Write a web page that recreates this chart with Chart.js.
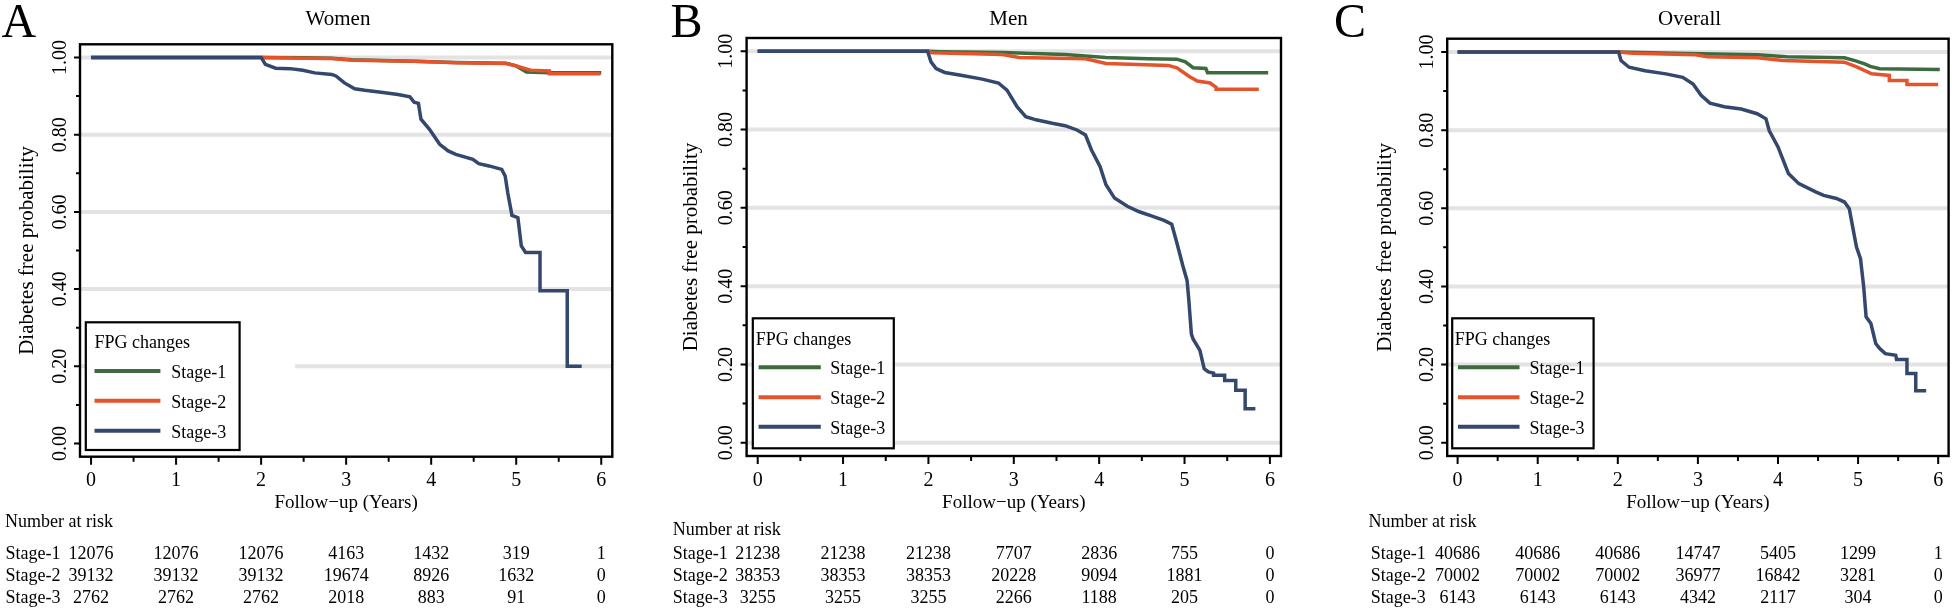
<!DOCTYPE html>
<html>
<head>
<meta charset="utf-8">
<script src="https://cdn.jsdelivr.net/npm/chart.js@4.4.1/dist/chart.umd.min.js"></script>
<style>
  html, body { margin: 0; padding: 0; background: #fff; }
  #wrap { position: relative; width: 1952px; height: 612px; overflow: hidden; }
  canvas { position: absolute; top: 0; }
</style>
</head>
<body>
<div id="wrap">
  <canvas id="women" width="650" height="612" style="left:0px"></canvas>
  <canvas id="men" width="650" height="612" style="left:650px"></canvas>
  <canvas id="overall" width="652" height="612" style="left:1300px"></canvas>
</div>
<script>
// ---- data ----
const stages = ['Stage-1', 'Stage-2', 'Stage-3'];
const stageColors = ['#3b6b3e', '#e5532a', '#34476c'];
const xTicks = [0, 1, 2, 3, 4, 5, 6];
const yTicks = [0, 0.2, 0.4, 0.6, 0.8, 1.0];

// survival curves, [years, probability]
const womenStage1 = [[0,1],[2,1],[2.5,0.999],[2.83,0.998],[3.07,0.994],[3.8,0.99],[4.29,0.987],[4.88,0.985],[5.0,0.978],[5.12,0.962],[5.39,0.96],[6.0,0.96]];
const womenStage2 = [[0,1],[2,1],[2.5,0.998],[2.83,0.997],[3.07,0.993],[3.8,0.99],[4.29,0.986],[4.88,0.984],[4.98,0.979],[5.17,0.967],[5.39,0.965],[5.39,0.958],[5.99,0.958]];
const womenStage3 = [[0,1],[2.0,1],[2.05,0.982],[2.17,0.972],[2.34,0.971],[2.49,0.967],[2.63,0.96],[2.83,0.956],[2.88,0.952],[2.98,0.934],[3.1,0.919],[3.22,0.915],[3.41,0.91],[3.61,0.904],[3.75,0.898],[3.8,0.884],[3.85,0.881],[3.88,0.84],[3.98,0.814],[4.1,0.775],[4.2,0.758],[4.29,0.749],[4.49,0.736],[4.56,0.725],[4.68,0.719],[4.83,0.71],[4.87,0.693],[4.9,0.65],[4.95,0.591],[5.02,0.585],[5.06,0.512],[5.11,0.495],[5.28,0.495],[5.28,0.396],[5.6,0.396],[5.6,0.2],[5.77,0.2]];

const menStage1 = [[0,1],[2,1],[2.14,0.999],[2.87,0.997],[3.6,0.992],[4.08,0.984],[4.57,0.981],[4.91,0.98],[5.01,0.973],[5.1,0.958],[5.25,0.956],[5.27,0.945],[5.98,0.945]];
const menStage2 = [[0,1],[2,1],[2.04,0.996],[2.87,0.992],[3.06,0.984],[3.84,0.981],[4.08,0.969],[4.81,0.964],[4.91,0.958],[5.06,0.935],[5.15,0.924],[5.3,0.919],[5.37,0.908],[5.37,0.903],[5.87,0.903]];
const menStage3 = [[0,1],[1.99,1],[2.03,0.973],[2.09,0.956],[2.19,0.946],[2.38,0.939],[2.63,0.929],[2.82,0.919],[2.92,0.901],[3.04,0.858],[3.14,0.833],[3.26,0.825],[3.45,0.816],[3.6,0.81],[3.74,0.799],[3.84,0.786],[3.91,0.748],[4.01,0.706],[4.08,0.659],[4.18,0.625],[4.33,0.604],[4.47,0.59],[4.62,0.579],[4.76,0.568],[4.85,0.558],[4.91,0.511],[4.98,0.452],[5.03,0.414],[5.05,0.365],[5.08,0.278],[5.1,0.265],[5.18,0.236],[5.23,0.189],[5.28,0.181],[5.34,0.178],[5.34,0.172],[5.47,0.172],[5.47,0.159],[5.6,0.159],[5.6,0.134],[5.71,0.134],[5.71,0.087],[5.83,0.087]];

const allStage1 = [[0,1],[2,1],[2.71,0.997],[3.23,0.995],[3.74,0.993],[4.11,0.988],[4.83,0.985],[4.96,0.978],[5.09,0.969],[5.15,0.963],[5.27,0.957],[6.02,0.955]];
const allStage2 = [[0,1],[2,1],[2.19,0.997],[2.97,0.993],[3.12,0.988],[3.74,0.985],[4.06,0.978],[4.83,0.974],[4.99,0.961],[5.17,0.944],[5.3,0.942],[5.39,0.94],[5.39,0.927],[5.61,0.927],[5.61,0.917],[6.0,0.917]];
const allStage3 = [[0,1],[2.01,1],[2.04,0.978],[2.14,0.961],[2.34,0.952],[2.6,0.944],[2.81,0.935],[2.94,0.918],[3.04,0.889],[3.15,0.869],[3.33,0.86],[3.54,0.854],[3.74,0.842],[3.85,0.829],[3.89,0.799],[4.0,0.757],[4.13,0.689],[4.26,0.663],[4.47,0.642],[4.57,0.633],[4.73,0.625],[4.83,0.616],[4.89,0.599],[4.94,0.544],[4.98,0.501],[5.03,0.471],[5.07,0.399],[5.1,0.322],[5.16,0.305],[5.22,0.254],[5.27,0.241],[5.34,0.228],[5.47,0.224],[5.48,0.213],[5.61,0.213],[5.61,0.177],[5.72,0.177],[5.72,0.133],[5.85,0.133]];

// number at risk at years 0..6
const womenRisk1 = [12076, 12076, 12076, 4163, 1432, 319, 1];
const womenRisk2 = [39132, 39132, 39132, 19674, 8926, 1632, 0];
const womenRisk3 = [2762, 2762, 2762, 2018, 883, 91, 0];
const menRisk1 = [21238, 21238, 21238, 7707, 2836, 755, 0];
const menRisk2 = [38353, 38353, 38353, 20228, 9094, 1881, 0];
const menRisk3 = [3255, 3255, 3255, 2266, 1188, 205, 0];
const allRisk1 = [40686, 40686, 40686, 14747, 5405, 1299, 1];
const allRisk2 = [70002, 70002, 70002, 36977, 16842, 3281, 0];
const allRisk3 = [6143, 6143, 6143, 4342, 2117, 304, 0];

const FONT = '"Liberation Serif", "Times New Roman", serif';

function txt(ctx, s, x, y, size, align, rot) {
  ctx.save();
  ctx.translate(x, y);
  if (rot) ctx.rotate(rot);
  ctx.font = size + 'px ' + FONT;
  ctx.textAlign = align || 'left';
  ctx.textBaseline = 'alphabetic';
  ctx.fillStyle = '#000';
  ctx.fillText(s, 0, 0);
  ctx.restore();
}

// draws grid, frame, axes, legend, titles and the risk table
const kmDecor = {
  id: 'kmDecor',
  beforeDatasetsDraw(chart, args, o) {
    const { ctx, chartArea: a, scales: { x, y } } = chart;
    ctx.save();
    ctx.strokeStyle = '#e3e3e3';
    ctx.lineWidth = 4;
    o.grid.forEach(v => {
      const py = y.getPixelForValue(v);
      ctx.beginPath();
      ctx.moveTo(a.left, py);
      ctx.lineTo(a.right, py);
      ctx.stroke();
    });
    ctx.restore();
  },
  afterDatasetsDraw(chart, args, o) {
    const { ctx, chartArea: a, scales: { x, y } } = chart;
    ctx.save();

    // legend
    const L = o.legend;
    if (L.bg) {
      const bgR = L.bgTo != null ? x.getPixelForValue(L.bgTo) : L.r;
      ctx.fillStyle = '#fff';
      ctx.fillRect(L.l, L.t, bgR - L.l, L.b - L.t);
    }
    ctx.strokeStyle = '#000';
    ctx.lineWidth = 2.2;
    ctx.strokeRect(L.l, L.t, L.r - L.l, L.b - L.t);
    txt(ctx, 'FPG changes', L.titleX, L.titleY, 18);
    chart.data.datasets.forEach((ds, i) => {
      ctx.strokeStyle = ds.borderColor;
      ctx.lineWidth = 4;
      ctx.beginPath();
      ctx.moveTo(L.lineX0, L.rows[i]);
      ctx.lineTo(L.lineX1, L.rows[i]);
      ctx.stroke();
      txt(ctx, ds.label, L.textX, L.rows[i] + 7, 18);
    });

    // frame
    ctx.strokeStyle = '#000';
    ctx.lineWidth = 2.4;
    ctx.strokeRect(a.left, a.top, a.right - a.left, a.bottom - a.top);

    // ticks
    ctx.lineWidth = 2;
    ctx.beginPath();
    for (let v = 0; v <= 6.001; v += 0.5) {
      const px = x.getPixelForValue(v);
      const len = Math.abs(v - Math.round(v)) < 1e-6 ? 8 : 5;
      ctx.moveTo(px, a.bottom);
      ctx.lineTo(px, a.bottom + len);
    }
    for (let k = 0; k <= 10; k++) {
      const py = y.getPixelForValue(k / 10);
      const len = k % 2 === 0 ? 6 : 4;
      ctx.moveTo(a.left, py);
      ctx.lineTo(a.left - len, py);
    }
    ctx.stroke();

    // tick labels
    xTicks.forEach(v => txt(ctx, String(v), x.getPixelForValue(v), a.bottom + 29.5, 20, 'center'));
    yTicks.forEach(v => txt(ctx, v.toFixed(2), a.left - 14.5, y.getPixelForValue(v), 20, 'center', -Math.PI / 2));

    // axis titles
    txt(ctx, 'Follow\u2212up (Years)', (a.left + a.right) / 2, a.bottom + 51.5, 19, 'center');
    txt(ctx, 'Diabetes free probability', o.yTitleX, (a.top + a.bottom) / 2, 21, 'center', -Math.PI / 2);

    // panel title and letter
    txt(ctx, o.title, o.titleX, 25, 21, 'center');
    txt(ctx, o.letter, o.letterX, 36.5, 48);

    // number at risk
    txt(ctx, 'Number at risk', o.narX, o.narY, 18);
    o.risk.forEach((row, i) => {
      txt(ctx, stages[i], o.rowX, o.rowY[i], 18);
      row.forEach((n, j) => txt(ctx, String(n), x.getPixelForValue(xTicks[j]), o.rowY[i], 18, 'center'));
    });
    ctx.restore();
  }
};

function kmChart(id, series, box, decor) {
  const canvas = document.getElementById(id);
  const W = canvas.width, H = canvas.height;
  return new Chart(canvas.getContext('2d'), {
    type: 'line',
    data: {
      datasets: series.map((pts, i) => ({
        label: stages[i],
        data: pts.map(p => ({ x: p[0], y: p[1] })),
        borderColor: stageColors[i],
        borderWidth: 3.5,
        pointRadius: 0,
        tension: 0,
        fill: false,
        order: 3 - i
      }))
    },
    options: {
      responsive: false,
      animation: false,
      events: [],
      layout: { padding: { left: box.l, right: W - box.r, top: box.t, bottom: H - box.b } },
      scales: {
        x: { type: 'linear', display: false, min: -0.13, max: 6.13 },
        y: { type: 'linear', display: false, min: -0.034, max: 1.034 }
      },
      plugins: {
        legend: { display: false },
        tooltip: { enabled: false },
        kmDecor: decor
      }
    },
    plugins: [kmDecor]
  });
}

kmChart('women', [womenStage1, womenStage2, womenStage3],
  { l: 80, r: 612.3, t: 44.3, b: 456.7 },
  {
    title: 'Women', titleX: 338, letter: 'A', letterX: 1.5, yTitleX: 33,
    grid: [0.2, 0.4, 0.6, 0.8, 1.0],
    legend: { l: 85.8, r: 239.6, t: 322.3, b: 450, bg: true, bgTo: 2.4,
      titleX: 94.5, titleY: 348.3, lineX0: 94.5, lineX1: 160.4, textX: 171.2, rows: [371, 400.7, 430.7] },
    narX: 5, narY: 526.7, rowX: 5.5, rowY: [559, 581, 603],
    risk: [womenRisk1, womenRisk2, womenRisk3]
  });

kmChart('men', [menStage1, menStage2, menStage3],
  { l: 96.6, r: 631, t: 38, b: 456 },
  {
    title: 'Men', titleX: 358.6, letter: 'B', letterX: 20.5, yTitleX: 47,
    grid: [0, 0.2, 0.4, 0.6, 0.8, 1.0],
    legend: { l: 102.8, r: 243.8, t: 318.3, b: 448.3, bg: true,
      titleX: 105.7, titleY: 345, lineX0: 108.6, lineX1: 170.8, textX: 180.3, rows: [367.3, 397.3, 426.7] },
    narX: 22.8, narY: 535, rowX: 22.8, rowY: [559, 581, 603],
    risk: [menRisk1, menRisk2, menRisk3]
  });

kmChart('overall', [allStage1, allStage2, allStage3],
  { l: 147.2, r: 648.6, t: 38.7, b: 456 },
  {
    title: 'Overall', titleX: 389.6, letter: 'C', letterX: 34, yTitleX: 91,
    grid: [0.2, 0.4, 0.6, 0.8, 1.0],
    legend: { l: 152.2, r: 293.6, t: 318.3, b: 448.3, bg: false,
      titleX: 154.7, titleY: 345, lineX0: 158, lineX1: 219.5, textX: 229.5, rows: [367.3, 397.3, 426.7] },
    narX: 68.6, narY: 526.7, rowX: 70.7, rowY: [559, 581, 603],
    risk: [allRisk1, allRisk2, allRisk3]
  });
</script>
</body>
</html>
